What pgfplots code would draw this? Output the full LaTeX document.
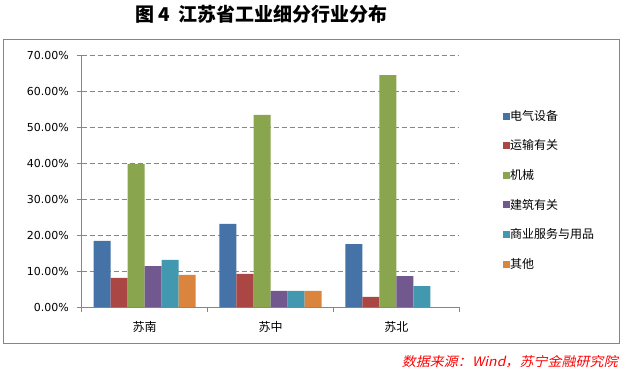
\documentclass[border=0pt]{standalone}
\usepackage{fontspec}
\usepackage{pgfplots}
\pgfplotsset{compat=1.18}
\setmainfont{DejaVu Sans}
\newfontfamily\cjk{Noto Sans CJK SC}
\newfontfamily\cjkit[FakeSlant=0.2]{Noto Sans CJK SC}
\definecolor{c1}{HTML}{4572A7}
\definecolor{c2}{HTML}{AA4643}
\definecolor{c3}{HTML}{89A54E}
\definecolor{c4}{HTML}{71588F}
\definecolor{c5}{HTML}{4198AF}
\definecolor{c6}{HTML}{DB843D}
\definecolor{axgray}{HTML}{868686}
\begin{document}
\begin{tikzpicture}[x=1pt,y=1pt]
% origin = lower-left corner of the plot area (image px 81.7, 307)
\path (-81.7,-62) rectangle (541.3,307);
\draw[axgray, line width=1pt] (-78.4,-36.5) rectangle (537.6,267);
\node[font=\cjk\bfseries\fontsize{19}{22}\selectfont, inner sep=0pt] at (179.8,292.5) {图 4\ \ 江苏省工业细分行业分布};
\node[anchor=east, text=red, inner sep=0pt] at (536.3,-54.7) {\scalebox{1.08}[1]{\cjkit\fontsize{13}{15}\selectfont 数据来源：Wind，苏宁金融研究院}};
\begin{axis}[
  scale only axis, width=377.6pt, height=251.7pt,
  xmin=-0.5, xmax=2.5, ymin=0, ymax=70,
  ybar=0pt, bar width=17pt,
  /pgf/number format/assume math mode=true,
  axis x line*=bottom, axis y line*=left,
  axis line style={axgray, line width=0.8pt},
  tick align=outside, major tick length=5pt,
  xtick={0,1,2}, xticklabels={苏南,苏中,苏北},
  xtick style={draw=none},
  x tick label style={font=\cjk\fontsize{12}{14}\selectfont, inner sep=0pt, yshift=-9pt},
  extra x ticks={-0.5,0.5,1.5,2.5}, extra x tick labels={},
  extra x tick style={xtick style={draw=axgray, line width=0.8pt}, major tick length=4.5pt},
  ytick={0,10,...,70},
  ytick style={draw=axgray, line width=0.8pt},
  ymajorgrids,
  major grid style={axgray, dash pattern=on 5pt off 3pt, line width=0.8pt},
  yticklabel={\pgfmathprintnumber[fixed,fixed zerofill,precision=2]{\tick}\%},
  y tick label style={font=\fontsize{11}{13}\selectfont, inner sep=0pt, xshift=-7.7pt},
  legend style={at={(1.1157,0.7827)}, anchor=north west, draw=none, fill=none, inner sep=0pt,
    font=\cjk\fontsize{12}{14}\selectfont, row sep=18pt, nodes={inner sep=0pt},
    /tikz/every even column/.append style={column sep=3pt}},
  legend cell align=left,
  legend image code/.code={\draw[#1,draw=none] (0pt,-3.5pt) rectangle (7pt,3.5pt);},
]
\addplot[fill=c1, draw=none] coordinates {(0,18.4) (1,23.1) (2,17.5)};
\addplot[fill=c2, draw=none] coordinates {(0,8.1) (1,9.2) (2,2.8)};
\addplot[fill=c3, draw=none] coordinates {(0,39.8) (1,53.4) (2,64.5)};
\addplot[fill=c4, draw=none] coordinates {(0,11.4) (1,4.45) (2,8.6)};
\addplot[fill=c5, draw=none] coordinates {(0,13.1) (1,4.45) (2,5.8)};
\addplot[fill=c6, draw=none] coordinates {(0,8.9) (1,4.45)};
\legend{电气设备,运输有关,机械,建筑有关,商业服务与用品,其他}
\end{axis}
\end{tikzpicture}
\end{document}
